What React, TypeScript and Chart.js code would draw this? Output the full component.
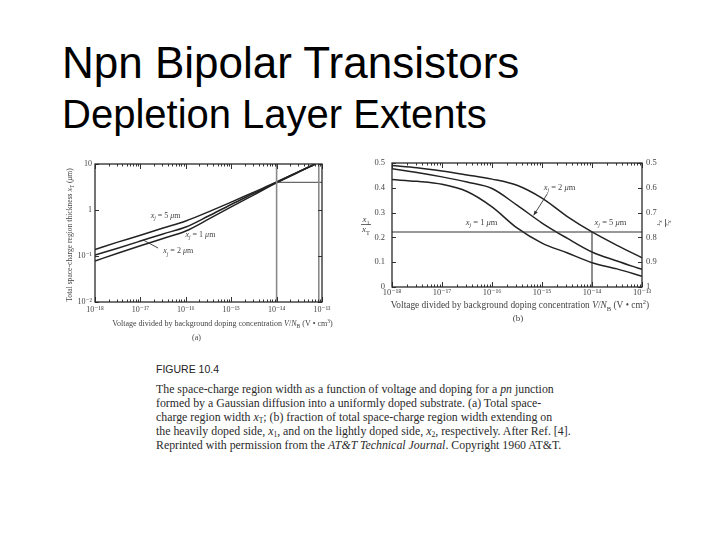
import React, { useEffect, useRef } from "react";
import { Chart, registerables } from "chart.js";
Chart.register(...registerables);

// ---------------- Data: chart (a) total space-charge width ----------------
const xA = [1e-18, 3.16e-18, 1e-17, 3.16e-17, 1e-16, 3.16e-16, 1e-15, 3.16e-15, 1e-14, 3.16e-14, 7.1e-14];
const widthXj5 = [0.139, 0.2, 0.283, 0.407, 0.578, 0.912, 1.48, 2.45, 4.05, 6.9, 10];
const widthXj1 = [0.105, 0.148, 0.211, 0.302, 0.427, 0.741, 1.32, 2.29, 3.98, 6.9, 10];
const widthXj2 = [0.078, 0.115, 0.167, 0.24, 0.349, 0.631, 1.17, 2.14, 3.89, 6.76, 10];
const refAV1x = 1e-14;
const refAV2x = 8.5e-14;
const refAHy = 4;

const xDecades = [1e-18, 1e-17, 1e-16, 1e-15, 1e-14, 1e-13];
const xDecadeLabels = ["10⁻¹⁸", "10⁻¹⁷", "10⁻¹⁶", "10⁻¹⁵", "10⁻¹⁴", "10⁻¹³"];
const yATicks = [0.01, 0.1, 1, 10];
const yATickLabels = ["10⁻²", "10⁻¹", "1", "10"];

// ---------------- Data: chart (b) fraction x1/xT ----------------
const xB = [1e-18, 3.16e-18, 1e-17, 3.16e-17, 1e-16, 3.16e-16, 1e-15, 3.16e-15, 1e-14, 3.16e-14, 1e-13];
const fracXj5 = [0.49, 0.481, 0.468, 0.452, 0.435, 0.41, 0.358, 0.285, 0.222, 0.168, 0.118];
const fracXj2 = [0.477, 0.462, 0.444, 0.423, 0.397, 0.33, 0.258, 0.197, 0.141, 0.105, 0.071];
const fracXj1 = [0.433, 0.426, 0.414, 0.385, 0.323, 0.238, 0.177, 0.138, 0.098, 0.073, 0.043];
const refBHy = 0.222;
const refBVx = 1e-14;
const yBTicks = [0, 0.1, 0.2, 0.3, 0.4, 0.5];
const yBTickLabels = ["0", "0.1", "0.2", "0.3", "0.4", "0.5"];
const yB2Ticks = [0.5, 0.6, 0.7, 0.8, 0.9, 1];
const yB2TickLabels = ["0.5", "0.6", "0.7", "0.8", "0.9", "1"];

// annotation anchors (data coordinates)
const annA = [
  { v: "5", x: 3.6e-17, y: 0.78 },
  { v: "1", x: 2.1e-16, y: 0.3 },
  { v: "2", x: 6.8e-17, y: 0.13 },
];
const leaderA = [
  { x: 2.45e-17, y: 0.149 },
  { x: 1.15e-17, y: 0.223 },
];
const annB = [
  { v: "1", x: 6.2e-17, y: 0.262 },
  { v: "2", x: 2.24e-15, y: 0.402 },
  { v: "5", x: 2.34e-14, y: 0.262 },
];
const arrowB = [
  { x: 1.29e-15, y: 0.377 },
  { x: 6.8e-16, y: 0.289 },
];

// ---------------- helpers ----------------
const SERIF = "'Liberation Serif', 'Times New Roman', 'DejaVu Serif', serif";
const TXT = "#444";
const LINE = "#222";

type Seg = { t: string; i?: boolean; sub?: boolean; sup?: boolean };

function richWidth(ctx: CanvasRenderingContext2D, segs: Seg[], size: number) {
  let w = 0;
  for (const s of segs) {
    ctx.font = `${s.i ? "italic " : ""}${s.sub || s.sup ? size * 0.7 : size}px ${SERIF}`;
    w += ctx.measureText(s.t).width;
  }
  return w;
}

function drawRich(
  ctx: CanvasRenderingContext2D,
  segs: Seg[],
  x: number,
  y: number,
  size: number,
  align: "left" | "center" | "right" = "center",
  color = TXT
) {
  const w = richWidth(ctx, segs, size);
  let cx = align === "left" ? x : align === "center" ? x - w / 2 : x - w;
  ctx.textAlign = "left";
  ctx.textBaseline = "alphabetic";
  ctx.fillStyle = color;
  for (const s of segs) {
    ctx.font = `${s.i ? "italic " : ""}${s.sub || s.sup ? size * 0.7 : size}px ${SERIF}`;
    const dy = s.sub ? size * 0.28 : s.sup ? -size * 0.4 : 0;
    ctx.fillText(s.t, cx, y + dy);
    cx += ctx.measureText(s.t).width;
  }
}

function xjLabel(v: string): Seg[] {
  return [{ t: "x", i: true }, { t: "j", i: true, sub: true }, { t: ` = ${v} ` }, { t: "μ", i: true }, { t: "m" }];
}

function minorLog(decades: number[]) {
  const out: number[] = [];
  for (let i = 0; i < decades.length - 1; i++) for (let m = 2; m <= 9; m++) out.push(decades[i] * m);
  return out;
}

function pts(xs: number[], ys: number[]) {
  return xs.map((x, i) => ({ x, y: ys[i] }));
}

function curve(data: { x: number; y: number }[], color = LINE, width = 1.5) {
  return {
    data,
    borderColor: color,
    borderWidth: width,
    pointRadius: 0,
    fill: false,
    cubicInterpolationMode: "monotone" as const,
  };
}

function straight(data: { x: number; y: number }[], color: string, width: number) {
  return { data, borderColor: color, borderWidth: width, pointRadius: 0, fill: false, tension: 0 };
}

function drawFrameTicks(chart: any, xMajor: number[], xMinor: number[], yMajor: number[], yScaleId = "y") {
  const { ctx, chartArea: ca, scales } = chart;
  const sx = scales.x;
  const sy = scales[yScaleId];
  ctx.save();
  ctx.strokeStyle = "#333";
  ctx.lineWidth = 1;
  ctx.beginPath();
  for (const v of xMajor) {
    const px = Math.round(sx.getPixelForValue(v)) + 0.5;
    ctx.moveTo(px, ca.bottom); ctx.lineTo(px, ca.bottom - 5);
    ctx.moveTo(px, ca.top); ctx.lineTo(px, ca.top + 5);
  }
  for (const v of xMinor) {
    const px = Math.round(sx.getPixelForValue(v)) + 0.5;
    ctx.moveTo(px, ca.bottom); ctx.lineTo(px, ca.bottom - 2.5);
    ctx.moveTo(px, ca.top); ctx.lineTo(px, ca.top + 2.5);
  }
  for (const v of yMajor) {
    const py = Math.round(sy.getPixelForValue(v)) + 0.5;
    ctx.moveTo(ca.left, py); ctx.lineTo(ca.left + 4, py);
    ctx.moveTo(ca.right, py); ctx.lineTo(ca.right - 4, py);
  }
  ctx.stroke();
  ctx.strokeStyle = "#2a2a2a";
  ctx.lineWidth = 1.3;
  ctx.strokeRect(ca.left, ca.top, ca.right - ca.left, ca.bottom - ca.top);
  ctx.restore();
}

const tickFont = (size: number) => ({ family: SERIF, size });
const noGrid = { display: false, drawTicks: false, tickLength: 0 };

// ---------------- chart (a) ----------------
function configA(): any {
  const overlay = {
    id: "overlayA",
    afterDraw(chart: any) {
      const { ctx, scales, chartArea: ca } = chart;
      const sx = scales.x, sy = scales.y;
      drawFrameTicks(chart, xDecades, minorLog(xDecades), yATicks);
      ctx.save();
      for (const a of annA) {
        drawRich(ctx, xjLabel(a.v), sx.getPixelForValue(a.x), sy.getPixelForValue(a.y) + 2.6, 8);
      }
      ctx.strokeStyle = "#333";
      ctx.lineWidth = 0.9;
      ctx.beginPath();
      ctx.moveTo(sx.getPixelForValue(leaderA[0].x), sy.getPixelForValue(leaderA[0].y));
      ctx.lineTo(sx.getPixelForValue(leaderA[1].x), sy.getPixelForValue(leaderA[1].y));
      ctx.stroke();
      // axis titles
      const cx = (ca.left + ca.right) / 2;
      drawRich(
        ctx,
        [
          { t: "Voltage divided by background doping concentration " },
          { t: "V", i: true }, { t: "/" }, { t: "N", i: true }, { t: "B", sub: true },
          { t: " (V • cm" }, { t: "3", sup: true }, { t: ")" },
        ],
        cx + 14,
        ca.bottom + 24,
        8
      );
      drawRich(ctx, [{ t: "(a)" }], cx - 12, ca.bottom + 38, 8);
      ctx.translate(ca.left - 26, (ca.top + ca.bottom) / 2 + 2);
      ctx.rotate(-Math.PI / 2);
      drawRich(
        ctx,
        [
          { t: "Total space-charge region thickness " },
          { t: "x", i: true }, { t: "T", sub: true }, { t: " (" }, { t: "μ", i: true }, { t: "m)" },
        ],
        0,
        3,
        7.6
      );
      ctx.restore();
    },
  };
  return {
    type: "line",
    data: {
      datasets: [
        straight([{ x: refAV1x, y: 0.01 }, { x: refAV1x, y: 10 }], "#8a8a8a", 1.6),
        straight([{ x: refAV2x, y: 0.01 }, { x: refAV2x, y: 10 }], "#8a8a8a", 1.6),
        straight([{ x: refAV1x, y: refAHy }, { x: 1e-13, y: refAHy }], "#444", 1),
        curve(pts(xA, widthXj5)),
        curve(pts(xA, widthXj1)),
        curve(pts(xA, widthXj2)),
      ],
    },
    options: {
      animation: false,
      responsive: false,
      events: [],
      layout: { padding: { left: 0, top: 14, right: 18, bottom: 0 } },
      plugins: { legend: { display: false }, tooltip: { enabled: false }, title: { display: false } },
      scales: {
        x: {
          type: "logarithmic",
          position: "bottom",
          min: 1e-18,
          max: 1e-13,
          afterBuildTicks: (s: any) => { s.ticks = xDecades.map((v) => ({ value: v })); },
          afterFit: (s: any) => { s.height = 48; s.paddingLeft = 0; s.paddingRight = 0; },
          ticks: {
            autoSkip: false, maxRotation: 0, minRotation: 0, padding: 3,
            callback: (_v: any, i: number) => xDecadeLabels[i],
            font: tickFont(8), color: TXT,
          },
          grid: noGrid,
          border: { display: false },
        },
        y: {
          type: "logarithmic",
          position: "left",
          min: 0.01,
          max: 10,
          afterBuildTicks: (s: any) => { s.ticks = yATicks.map((v) => ({ value: v })); },
          afterFit: (s: any) => { s.width = 55; s.paddingTop = 0; s.paddingBottom = 0; },
          ticks: {
            autoSkip: false, padding: 3,
            callback: (_v: any, i: number) => yATickLabels[i],
            font: tickFont(8), color: TXT,
          },
          grid: noGrid,
          border: { display: false },
        },
      },
    },
    plugins: [overlay],
  };
}

// ---------------- chart (b) ----------------
function configB(): any {
  const overlay = {
    id: "overlayB",
    afterDraw(chart: any) {
      const { ctx, scales, chartArea: ca } = chart;
      const sx = scales.x, sy = scales.y;
      drawFrameTicks(chart, xDecades, minorLog(xDecades), yBTicks);
      ctx.save();
      for (const a of annB) {
        drawRich(ctx, xjLabel(a.v), sx.getPixelForValue(a.x), sy.getPixelForValue(a.y) + 2.8, 8.5);
      }
      // arrow
      const x0 = sx.getPixelForValue(arrowB[0].x), y0 = sy.getPixelForValue(arrowB[0].y);
      const x1 = sx.getPixelForValue(arrowB[1].x), y1 = sy.getPixelForValue(arrowB[1].y);
      ctx.strokeStyle = "#333";
      ctx.fillStyle = "#333";
      ctx.lineWidth = 0.9;
      ctx.beginPath(); ctx.moveTo(x0, y0); ctx.lineTo(x1, y1); ctx.stroke();
      const ang = Math.atan2(y1 - y0, x1 - x0);
      ctx.beginPath();
      ctx.moveTo(x1, y1);
      ctx.lineTo(x1 - 5 * Math.cos(ang - 0.4), y1 - 5 * Math.sin(ang - 0.4));
      ctx.lineTo(x1 - 5 * Math.cos(ang + 0.4), y1 - 5 * Math.sin(ang + 0.4));
      ctx.closePath(); ctx.fill();
      // x title
      const cx = (ca.left + ca.right) / 2;
      drawRich(
        ctx,
        [
          { t: "Voltage divided by background doping concentration " },
          { t: "V", i: true }, { t: "/" }, { t: "N", i: true }, { t: "B", sub: true },
          { t: " (V • cm" }, { t: "2", sup: true }, { t: ")" },
        ],
        cx + 3,
        ca.bottom + 21,
        9.4
      );
      drawRich(ctx, [{ t: "(b)" }], cx + 1, ca.bottom + 34, 9);
      // left fraction x1/xT
      const fy = sy.getPixelForValue(0.25) - 1;
      const fx = ca.left - 26;
      drawRich(ctx, [{ t: "x", i: true }, { t: "1", sub: true }], fx, fy - 2, 9);
      ctx.strokeStyle = "#444"; ctx.lineWidth = 0.8;
      ctx.beginPath(); ctx.moveTo(fx - 5, fy + 0.5); ctx.lineTo(fx + 5, fy + 0.5); ctx.stroke();
      drawRich(ctx, [{ t: "x", i: true }, { t: "T", sub: true }], fx, fy + 8, 9);
      // right fraction x2/xT (rotated)
      ctx.translate(ca.right + 24, sy.getPixelForValue(0.25) - 2);
      ctx.rotate(Math.PI / 2);
      drawRich(ctx, [{ t: "x", i: true }, { t: "2", sub: true }], 0, -2, 7);
      ctx.beginPath(); ctx.moveTo(-4, 0.5); ctx.lineTo(4, 0.5); ctx.stroke();
      drawRich(ctx, [{ t: "x", i: true }, { t: "T", sub: true }], 0, 7, 7);
      ctx.restore();
    },
  };
  return {
    type: "line",
    data: {
      datasets: [
        straight([{ x: 1e-18, y: refBHy }, { x: 1e-13, y: refBHy }], "#333", 1.1),
        straight([{ x: refBVx, y: 0 }, { x: refBVx, y: refBHy }], "#333", 1.1),
        curve(pts(xB, fracXj5)),
        curve(pts(xB, fracXj2)),
        curve(pts(xB, fracXj1)),
      ],
    },
    options: {
      animation: false,
      responsive: false,
      events: [],
      layout: { padding: { left: 0, top: 13, right: 0, bottom: 0 } },
      plugins: { legend: { display: false }, tooltip: { enabled: false }, title: { display: false } },
      scales: {
        x: {
          type: "logarithmic",
          position: "bottom",
          min: 1e-18,
          max: 1e-13,
          afterBuildTicks: (s: any) => { s.ticks = xDecades.map((v) => ({ value: v })); },
          afterFit: (s: any) => { s.height = 63; s.paddingLeft = 0; s.paddingRight = 0; },
          ticks: {
            autoSkip: false, maxRotation: 0, minRotation: 0, padding: 1,
            callback: (_v: any, i: number) => xDecadeLabels[i],
            font: tickFont(8.5), color: TXT,
          },
          grid: noGrid,
          border: { display: false },
        },
        y: {
          type: "linear",
          position: "left",
          min: 0,
          max: 0.5,
          afterBuildTicks: (s: any) => { s.ticks = yBTicks.map((v) => ({ value: v })); },
          afterFit: (s: any) => { s.width = 42; s.paddingTop = 0; s.paddingBottom = 0; },
          ticks: {
            autoSkip: false, padding: 7,
            callback: (_v: any, i: number) => yBTickLabels[i],
            font: tickFont(8.5), color: TXT,
          },
          grid: noGrid,
          border: { display: false },
        },
        y2: {
          type: "linear",
          position: "right",
          min: 0.5,
          max: 1,
          reverse: true,
          afterBuildTicks: (s: any) => { s.ticks = yB2Ticks.map((v) => ({ value: v })); },
          afterFit: (s: any) => { s.width = 48; s.paddingTop = 0; s.paddingBottom = 0; },
          ticks: {
            autoSkip: false, padding: 4,
            callback: (_v: any, i: number) => yB2TickLabels[i],
            font: tickFont(8.5), color: TXT,
          },
          grid: noGrid,
          border: { display: false },
        },
      },
    },
    plugins: [overlay],
  };
}

function ChartCanvas(props: { make: () => any; left: number; top: number; width: number; height: number }) {
  const ref = useRef<HTMLCanvasElement>(null);
  useEffect(() => {
    const chart = new Chart(ref.current as HTMLCanvasElement, props.make());
    return () => chart.destroy();
  }, []);
  return (
    <canvas
      ref={ref}
      width={props.width}
      height={props.height}
      style={{ position: "absolute", left: props.left, top: props.top, width: props.width, height: props.height }}
    />
  );
}

const captionLineStyle = (top: number): React.CSSProperties => ({
  position: "absolute",
  left: 156,
  top,
  whiteSpace: "nowrap",
  font: `11.85px ${SERIF}`,
  lineHeight: "14px",
  color: "#2a2a2a",
});

const subStyle: React.CSSProperties = { fontSize: 7.5, verticalAlign: "-2px", lineHeight: 0 };

export default function App() {
  return (
    <div
      style={{
        position: "fixed",
        left: 0,
        top: 0,
        width: 720,
        height: 540,
        background: "#fff",
        overflow: "hidden",
        fontFamily: "'Liberation Sans', Arial, sans-serif",
      }}
    >
      <div style={{ position: "absolute", left: 62, top: 41, fontSize: 44, lineHeight: "44px", color: "#000", whiteSpace: "nowrap" }}>
        Npn Bipolar Transistors
      </div>
      <div style={{ position: "absolute", left: 62, top: 94, fontSize: 40, lineHeight: "40px", color: "#000", whiteSpace: "nowrap" }}>
        Depletion Layer Extents
      </div>

      <ChartCanvas make={configA} left={40} top={150} width={300} height={200} />
      <ChartCanvas make={configB} left={350} top={150} width={340} height={200} />

      <div style={{ position: "absolute", left: 156, top: 363, fontSize: 10.5, lineHeight: "12px", color: "#222", whiteSpace: "nowrap" }}>
        FIGURE 10.4
      </div>
      <div style={captionLineStyle(382)}>
        The space-charge region width as a function of voltage and doping for a <i>pn</i> junction
      </div>
      <div style={captionLineStyle(396)}>
        formed by a Gaussian diffusion into a uniformly doped substrate. (a) Total space-
      </div>
      <div style={captionLineStyle(410)}>
        charge region width <i>x</i><sub style={subStyle}>T</sub>; (b) fraction of total space-charge region width extending on
      </div>
      <div style={captionLineStyle(424)}>
        the heavily doped side, <i>x</i><sub style={subStyle}>1</sub>, and on the lightly doped side, <i>x</i>
        <sub style={subStyle}>2</sub>, respectively. After Ref. [4].
      </div>
      <div style={captionLineStyle(438)}>
        Reprinted with permission from the <i>AT&amp;T Technical Journal</i>. Copyright 1960 AT&amp;T.
      </div>
    </div>
  );
}
